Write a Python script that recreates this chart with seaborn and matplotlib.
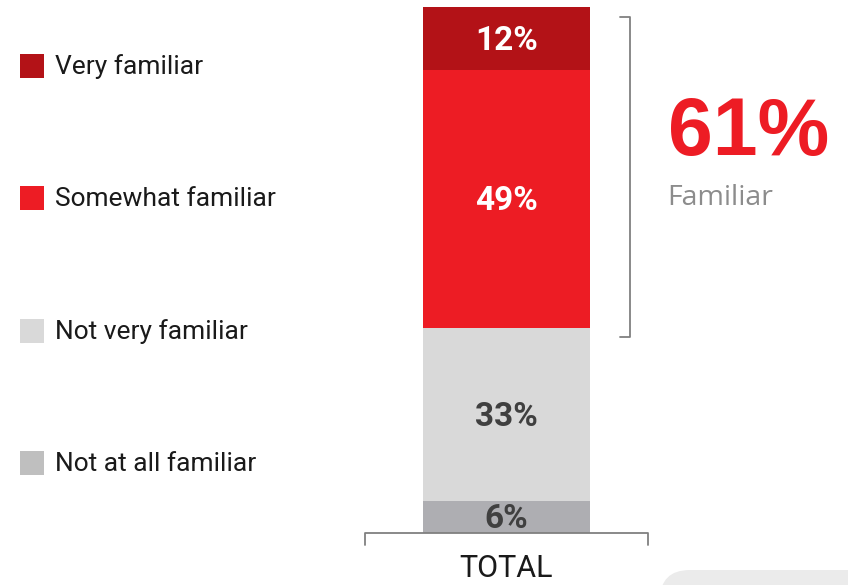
import numpy as np
import pandas as pd
import matplotlib.pyplot as plt
from matplotlib.patches import Rectangle, FancyBboxPatch
import seaborn as sns

# dados (do topo para a base da barra)
categorias = ['Very familiar', 'Somewhat familiar', 'Not very familiar', 'Not at all familiar']
valores = [12, 49, 33, 6]
cores_barra = ['#B31217', '#ED1C24', '#D9D9D9', '#AEAEB2']
cores_legenda = ['#B31217', '#ED1C24', '#D9D9D9', '#BFBFBF']
cores_texto = ['white', 'white', '#404040', '#404040']
grupo = 'TOTAL'
familiar_total = valores[0] + valores[1]

sns.set_theme(style='white')
plt.rcParams['font.family'] = ['Roboto', 'DejaVu Sans']

W, H = 848, 585
fig = plt.figure(figsize=(W / 100, H / 100), dpi=100)
ax = fig.add_axes([365 / W, 1 - 533 / H, 283 / W, 526 / H])

# barras acumuladas, da maior para a menor
acumulado = np.cumsum(valores[::-1])[::-1]
for cat, topo, cor in zip(categorias, acumulado, cores_barra):
    df = pd.DataFrame({'grupo': [grupo], 'valor': [topo]})
    sns.barplot(data=df, x='grupo', y='valor', color=cor, saturation=1,
                width=0.59, edgecolor='none', linewidth=0, ax=ax)

# rótulos no meio de cada segmento
bases = acumulado - np.array(valores)
for v, b, ct in zip(valores, bases, cores_texto):
    ax.text(0, b + v / 2 - 0.4, f'{v}%', ha='center', va='center', fontsize=24,
            fontweight='bold', color=ct)

ax.set_xlim(-0.5, 0.5)
ax.set_ylim(0, 100)
ax.set_xlabel('')
ax.set_ylabel('')
ax.set_xticks([])
ax.set_yticks([])
for s in ax.spines.values():
    s.set_visible(False)

# colchete do eixo x
ax.plot([0, 0, 1, 1], [-0.023, 0, 0, -0.023], transform=ax.transAxes,
        color='#808080', lw=1.3, clip_on=False)
ax.text(0.5, -0.068, grupo, transform=ax.transAxes, ha='center', va='center',
        fontsize=22, color='#1a1a1a')

# colchete "Familiar" (cobre Very + Somewhat familiar)
y_ini = 0.3726
y_fim = 0.981
ax.plot([0.901, 0.936, 0.936, 0.901], [y_ini, y_ini, y_fim, y_fim],
        transform=ax.transAxes, color='#808080', lw=1.3, clip_on=False)
fig.text(668 / W, 1 - 155 / H, f'{familiar_total}%', fontsize=58, fontweight='bold',
         color='#ED1C24', family=['Liberation Sans', 'DejaVu Sans'], va='baseline')
fig.text(667 / W, 1 - 205 / H, 'Familiar', fontsize=20.5, color='#8C8C8C',
         family=['Open Sans', 'DejaVu Sans'], va='baseline')

# legenda manual
ys = [66, 198, 331, 463]
for cat, cor, y in zip(categorias, cores_legenda, ys):
    fig.add_artist(Rectangle((20 / W, 1 - (y + 12) / H), 24 / W, 24 / H,
                             transform=fig.transFigure, color=cor, lw=0))
    fig.text(55 / W, 1 - (y + 1) / H, cat, fontsize=19, color='#1a1a1a', va='center')

# forma cinza no canto inferior direito
fig.add_artist(FancyBboxPatch((660, -60), 300, 75, boxstyle='round,pad=0,rounding_size=30',
                              transform=None, color='#EBEBEB', lw=0))

fig.savefig('out.png', dpi=100)
